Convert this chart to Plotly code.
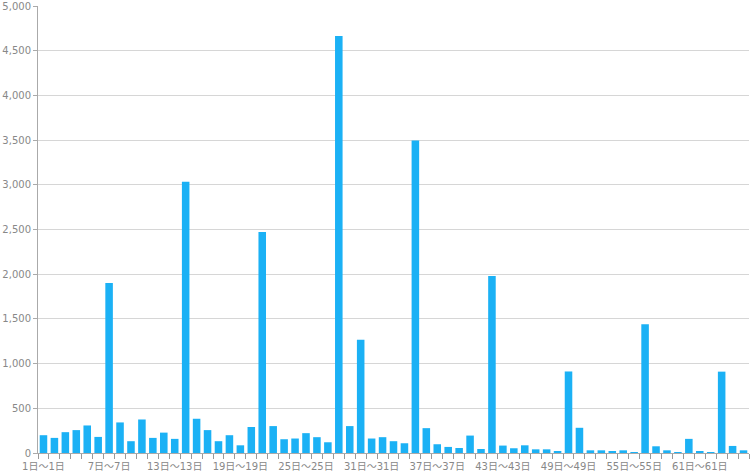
import plotly.graph_objects as go

days = list(range(1, 66))
categories = [f"{d}日～{d}日" for d in days]
values = [199, 169, 233, 256, 308, 180, 1902, 342, 132, 375,
          169, 228, 158, 3034, 383, 256, 132, 199, 86, 291,
          2473, 301, 154, 162, 222, 177, 120, 4665, 301, 1268,
          162, 177, 132, 109, 3495, 278, 98, 68, 56, 195,
          45, 1980, 83, 53, 86, 41, 41, 19, 912, 282,
          30, 30, 19, 30, 8, 1440, 75, 30, 8, 158,
          19, 8, 910, 79, 30]
tick_labels = [c if (i % 6 == 0) else "" for i, c in enumerate(categories)]

fig = go.Figure(go.Bar(
    x=categories, y=values,
    marker=dict(color="#1bb1f5", line=dict(width=0)),
))

fig.update_layout(
    width=752, height=475,
    margin=dict(l=38, r=3, t=6, b=22, autoexpand=False),
    plot_bgcolor="white", paper_bgcolor="white",
    bargap=0.31,
    showlegend=False,
    font=dict(family="DejaVu Sans", size=10, color="#888888"),
)
fig.update_xaxes(
    type="category", automargin=False,
    range=[-0.5, len(categories) - 0.5],
    tickmode="array", tickvals=categories, ticktext=tick_labels,
    tickson="boundaries", ticks="outside", ticklen=5, tickcolor="#999999",
    tickangle=0, ticklabelstandoff=4,
    showgrid=False, showline=True, linecolor="#aaaaaa", linewidth=1,
    tickfont=dict(family="DejaVu Sans, Noto Sans CJK JP", size=10, color="#888888"),
)
fig.update_yaxes(
    automargin=False,
    range=[0, 5000], dtick=500, tickformat=",d",
    ticks="outside", ticklen=4, tickcolor="#aaaaaa",
    showgrid=True, gridcolor="#d6d6d6", gridwidth=1,
    showline=True, linecolor="#aaaaaa", linewidth=1,
    zeroline=False,
    tickfont=dict(family="DejaVu Sans", size=10, color="#888888"),
)

fig.write_html("out.html", config={"displayModeBar": False},
               post_script="document.body.style.margin='0';document.body.style.overflow='hidden';")
